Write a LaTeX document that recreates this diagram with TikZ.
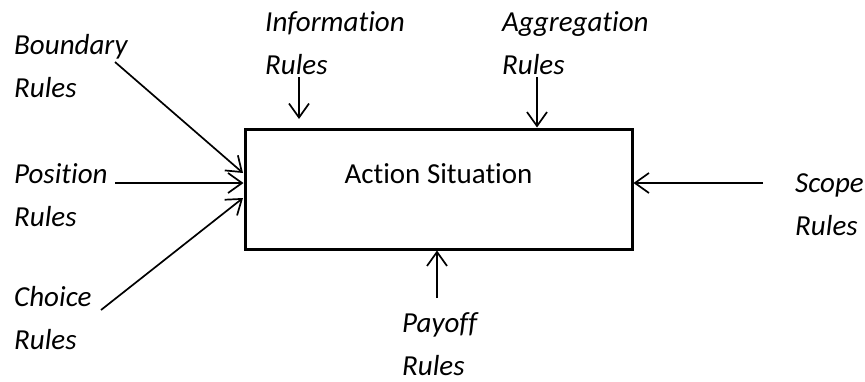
\documentclass[tikz,border=0pt]{standalone}
\usepackage{fontspec}
\setmainfont{Carlito}[Ligatures=NoCommon]
\usetikzlibrary{arrows.meta}
\tikzset{
  rulelbl/.style={anchor=base west, inner sep=0pt, align=left,
                  font=\fontsize{29}{43}\selectfont\itshape},
  sitbox/.style={draw, line width=3pt, minimum width=387pt, minimum height=120pt,
                 text height=20pt, text depth=32pt, inner sep=0pt,
                 font=\fontsize{29}{34}\selectfont},
  feed/.style={-{Straight Barb[length=14pt, width=20pt]}, line width=1.7pt}
}
\begin{document}
\begin{tikzpicture}[x=1pt, y=-1pt]
  \useasboundingbox (0,0) rectangle (865,381);
  \node[sitbox] (situation) at (438.5,189) {Action Situation};
  % rule labels (placed by the baseline of their second line)
  \node[rulelbl] (boundary) at (14,97) {Boundary\\Rules};
  \node[rulelbl] (information) at (265,74) {Information\\Rules};
  \node[rulelbl] (aggregation) at (502,74) {Aggregation\\Rules};
  \node[rulelbl] (position) at (14,226) {Position\\Rules};
  \node[rulelbl] (choice) at (14,349) {Choice\\Rules};
  \node[rulelbl] (payoff) at (402,375) {Payoff\\Rules};
  \node[rulelbl] (scope) at (795,235) {Scope\\Rules};
  % arrow ends
  \coordinate (bnd) at (115,62);
  \coordinate (pos) at (115,183);
  \coordinate (cho) at (101,310);
  \coordinate (inf) at (299,77);
  \coordinate (agg) at (537,77);
  \coordinate (pay) at (437,298);
  \coordinate (scp) at (763,183);
  \draw[feed] (bnd) -- (243,173);
  \draw[feed] (pos) -- (situation.west |- pos);
  \draw[feed] (cho) -- (243,198);
  \draw[feed] (inf) -- (299,119);
  \draw[feed] (agg) -- (situation.north -| agg);
  \draw[feed] (pay) -- (situation.south -| pay);
  \draw[feed] (scp) -- (situation.east |- scp);
\end{tikzpicture}
\end{document}
